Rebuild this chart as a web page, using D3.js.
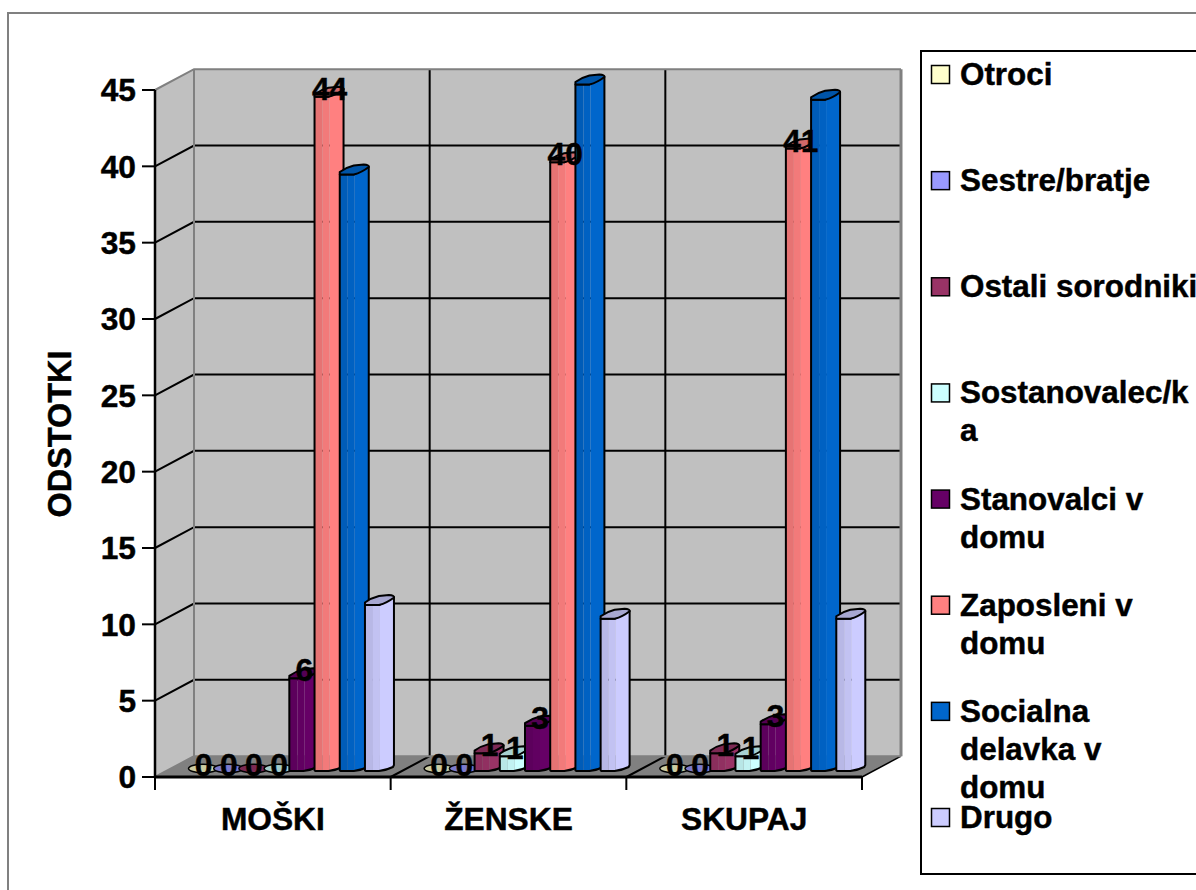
<!DOCTYPE html>
<html>
<head>
<meta charset="utf-8">
<script src="https://cdn.jsdelivr.net/npm/d3@7"></script>
<style>
html,body{margin:0;padding:0;background:#fff;overflow:hidden}
svg{display:block}
text{font-family:"Liberation Sans",Arial,sans-serif;font-weight:bold;fill:#000;stroke:#000;stroke-width:0.45px}
</style>
</head>
<body>
<svg id="c" width="1196" height="890"></svg>
<script>
const categories = ["MOŠKI", "ŽENSKE", "SKUPAJ"];
const seriesNames = ["Otroci", "Sestre/bratje", "Ostali sorodniki", "Sostanovalec/ka", "Stanovalci v domu", "Zaposleni v domu", "Socialna delavka v domu", "Drugo"];
const legendLines = [["Otroci"], ["Sestre/bratje"], ["Ostali sorodniki"], ["Sostanovalec/k", "a"], ["Stanovalci v", "domu"], ["Zaposleni v", "domu"], ["Socialna", "delavka v", "domu"], ["Drugo"]];
const colors = ["#FFFFCC", "#9999FF", "#993366", "#CCFFFF", "#660066", "#FF8080", "#0066CC", "#CCCCFF"];
const moski = [0, 0, 0, 0, 6.2, 44.3, 39.2, 11];
const zenske = [0, 0, 1.3, 1.1, 3.1, 40, 45.1, 10.1];
const skupaj = [0, 0, 1.3, 1.1, 3.2, 40.9, 44.1, 10.1];
const values = [moski, zenske, skupaj];
const labelledSeries = 6;
const yTicks = [0, 5, 10, 15, 20, 25, 30, 35, 40, 45];
const yTitle = "ODSTOTKI";

const svg = d3.select("#c");
const FS = 31.7, legendFS = 31.4;
const dx = 39, dy = 20.8;        // 3D depth of the plot box
const left = 155, right = 862;
const y = d3.scaleLinear().domain([0, 45]).range([777, 90]);
const x0 = d3.scaleBand().domain(categories).range([left, right]);
const x1 = d3.scaleBand().domain(seriesNames).range([33.5, x0.bandwidth() - 0.5]);
const barW = 29, baseLift = 6, topLift = 4;

svg.append("rect").attr("x", 8).attr("y", 13).attr("width", 1400).attr("height", 1100)
  .attr("fill", "#fff").attr("stroke", "#808080").attr("stroke-width", 2);

const poly = pts => "M" + pts.map(p => p.join(",")).join("L") + "Z";
const wall = svg.append("g");
wall.append("path").attr("d", poly([[left, y(0)], [left, y(45)], [left + dx, y(45) - dy], [left + dx, y(0) - dy]]))
  .attr("fill", "#C0C0C0");
wall.append("path").attr("d", poly([[left + dx, y(45) - dy], [right + dx, y(45) - dy], [right + dx, y(0) - dy], [left + dx, y(0) - dy]]))
  .attr("fill", "#C0C0C0");
wall.append("path").attr("d", poly([[left, y(0)], [left + dx, y(0) - dy], [right + dx, y(0) - dy], [right, y(0)]]))
  .attr("fill", "#808080");

// gridlines on side and back walls
const grid = svg.append("g").attr("stroke", "#000").attr("stroke-width", 2).attr("fill", "none");
yTicks.filter(t => t > 0 && t < 45).forEach(t => {
  grid.append("path").attr("d", `M${left},${y(t)}L${left + dx},${y(t) - dy}L${right + dx},${y(t) - dy}`);
});
categories.slice(1).forEach(c => {
  const px = x0(c);
  grid.append("path").attr("d", `M${px},${y(0)}L${px + dx},${y(0) - dy}L${px + dx},${y(45) - dy}`);
});
grid.append("path").attr("d", `M${right},${y(0)}L${right + dx},${y(0) - dy}`).attr("stroke-width", 1.5);

// gray box edges
const edge = svg.append("g").attr("stroke", "#808080").attr("fill", "none").attr("stroke-width", 2);
edge.append("path").attr("d", `M${left},${y(45)}L${left + dx},${y(45) - dy}L${right + dx},${y(45) - dy}`);
edge.append("path").attr("d", `M${left},${y(0)}L${left + dx},${y(0) - dy}L${left + dx},${y(45) - dy}`);
edge.append("path").attr("d", `M${right + dx},${y(45) - dy}L${right + dx},${y(0) - dy}`).attr("stroke-width", 3);
edge.append("path").attr("d", `M${left + dx},${y(0) - dy}L${right + dx},${y(0) - dy}`);

// bars
const bars = svg.append("g");
const shade = (c, k) => { const o = d3.rgb(c); return d3.rgb(o.r * k, o.g * k, o.b * k).formatHex(); };
categories.forEach((cat, ci) => {
  seriesNames.forEach((s, si) => {
    const v = values[ci][si];
    const xl = x0(cat) + x1(s);
    const col = colors[si];
    const yb = y(0) - baseLift;
    const yt = y(v) - topLift;
    if (v === 0) {
      bars.append("ellipse").attr("cx", xl + barW / 2).attr("cy", yb - 2.5)
        .attr("rx", barW / 2).attr("ry", 4.3)
        .attr("fill", shade(col, 0.8)).attr("stroke", "#000").attr("stroke-width", 1.5);
      return;
    }
    const m = xl + 14, r = xl + barW;
    const body = `M${xl},${yt}L${xl},${yb - 1}Q${xl},${yb} ${xl + 2},${yb}L${m},${yb}Q${m + 8},${yb - 1} ${r - 1},${yb - 4}L${r},${yb - 6}L${r},${yt - 8}L${m},${yt}Z`;
    const id = `clip${ci}_${si}`;
    bars.append("clipPath").attr("id", id).append("path").attr("d", body);
    const strips = [[xl, 8, 0.9], [xl + 8, 7, 0.95], [xl + 15, barW - 15, 1]];
    strips.forEach(([sx, sw, k]) => {
      bars.append("rect").attr("x", sx).attr("y", yt - 10).attr("width", sw).attr("height", yb - yt + 12)
        .attr("fill", shade(col, k)).attr("clip-path", `url(#${id})`);
    });
    bars.append("path").attr("d", body).attr("fill", "none").attr("stroke", "#000").attr("stroke-width", 2).attr("stroke-linejoin", "round");
    const cap = `M${xl},${yt}L${xl},${yt - 2.5}Q${xl + 6},${yt - 7} ${m},${yt - 9}L${r - 5},${yt - 10}Q${r},${yt - 10} ${r},${yt - 7.5}Q${m + 8},${yt - 2} ${m},${yt}Z`;
    bars.append("path").attr("d", cap).attr("fill", shade(col, 0.82))
      .attr("stroke", "#000").attr("stroke-width", 2).attr("stroke-linejoin", "round");
  });
});

// axes
const yAxis = d3.axisLeft(y).tickValues(yTicks).tickSize(13).tickPadding(6).offset(0);
const gy = svg.append("g").attr("transform", `translate(${left},0)`).call(yAxis);
const xAxis = d3.axisBottom(d3.scalePoint().domain(d3.range(categories.length + 1)).range([left, right]))
  .tickSize(13).tickFormat("").offset(0);
const gx = svg.append("g").attr("transform", `translate(0,${y(0)})`).call(xAxis);
[gy, gx].forEach(g => {
  g.selectAll("path.domain").attr("stroke", "#000").attr("stroke-width", 2.5).attr("d", null);
  g.selectAll("line").attr("stroke", "#000").attr("stroke-width", 2);
});
gy.select("path.domain").attr("d", `M0,${y(45)}V${y(0)}`);
gx.select("path.domain").attr("d", `M${left},0H${right}`).attr("stroke-width", 3);
gy.selectAll("text").attr("font-size", FS).attr("font-family", null).style("font-family", '"Liberation Sans"').style("font-weight", "bold").attr("dy", "0.36em");
categories.forEach(c => {
  svg.append("text").attr("x", x0(c) + x0.bandwidth() / 2).attr("y", 830)
    .attr("text-anchor", "middle").attr("font-size", FS).text(c);
});
svg.append("text").attr("transform", "translate(71,434) rotate(-90)").attr("text-anchor", "middle")
  .attr("font-size", 32.4).text(yTitle);

// data labels
const fmt = d3.format(".0f");
const labels = svg.append("g");
categories.forEach((cat, ci) => {
  seriesNames.slice(0, labelledSeries).forEach((s, si) => {
    const v = values[ci][si];
    labels.append("text").attr("x", x0(cat) + x1(s) + 15).attr("y", y(v) - topLift + 3)
      .attr("text-anchor", "middle").attr("font-size", FS).text(fmt(v));
  });
});

// legend
const legend = svg.append("g");
legend.append("rect").attr("x", 921).attr("y", 51).attr("width", 400).attr("height", 823)
  .attr("fill", "#fff").attr("stroke", "#000").attr("stroke-width", 2);
const ly = d3.scalePoint().domain(seriesNames).range([84, 827]);
seriesNames.forEach((s, i) => {
  const by = ly(s);
  legend.append("rect").attr("x", 931.5).attr("y", by - 18.5).attr("width", 18).attr("height", 18)
    .attr("fill", colors[i]).attr("stroke", "#000").attr("stroke-width", 1.5);
  legendLines[i].forEach((t, j) => {
    legend.append("text").attr("x", 960).attr("y", by + 1 + j * 38).attr("font-size", legendFS).text(t);
  });
});
</script>
</body>
</html>
